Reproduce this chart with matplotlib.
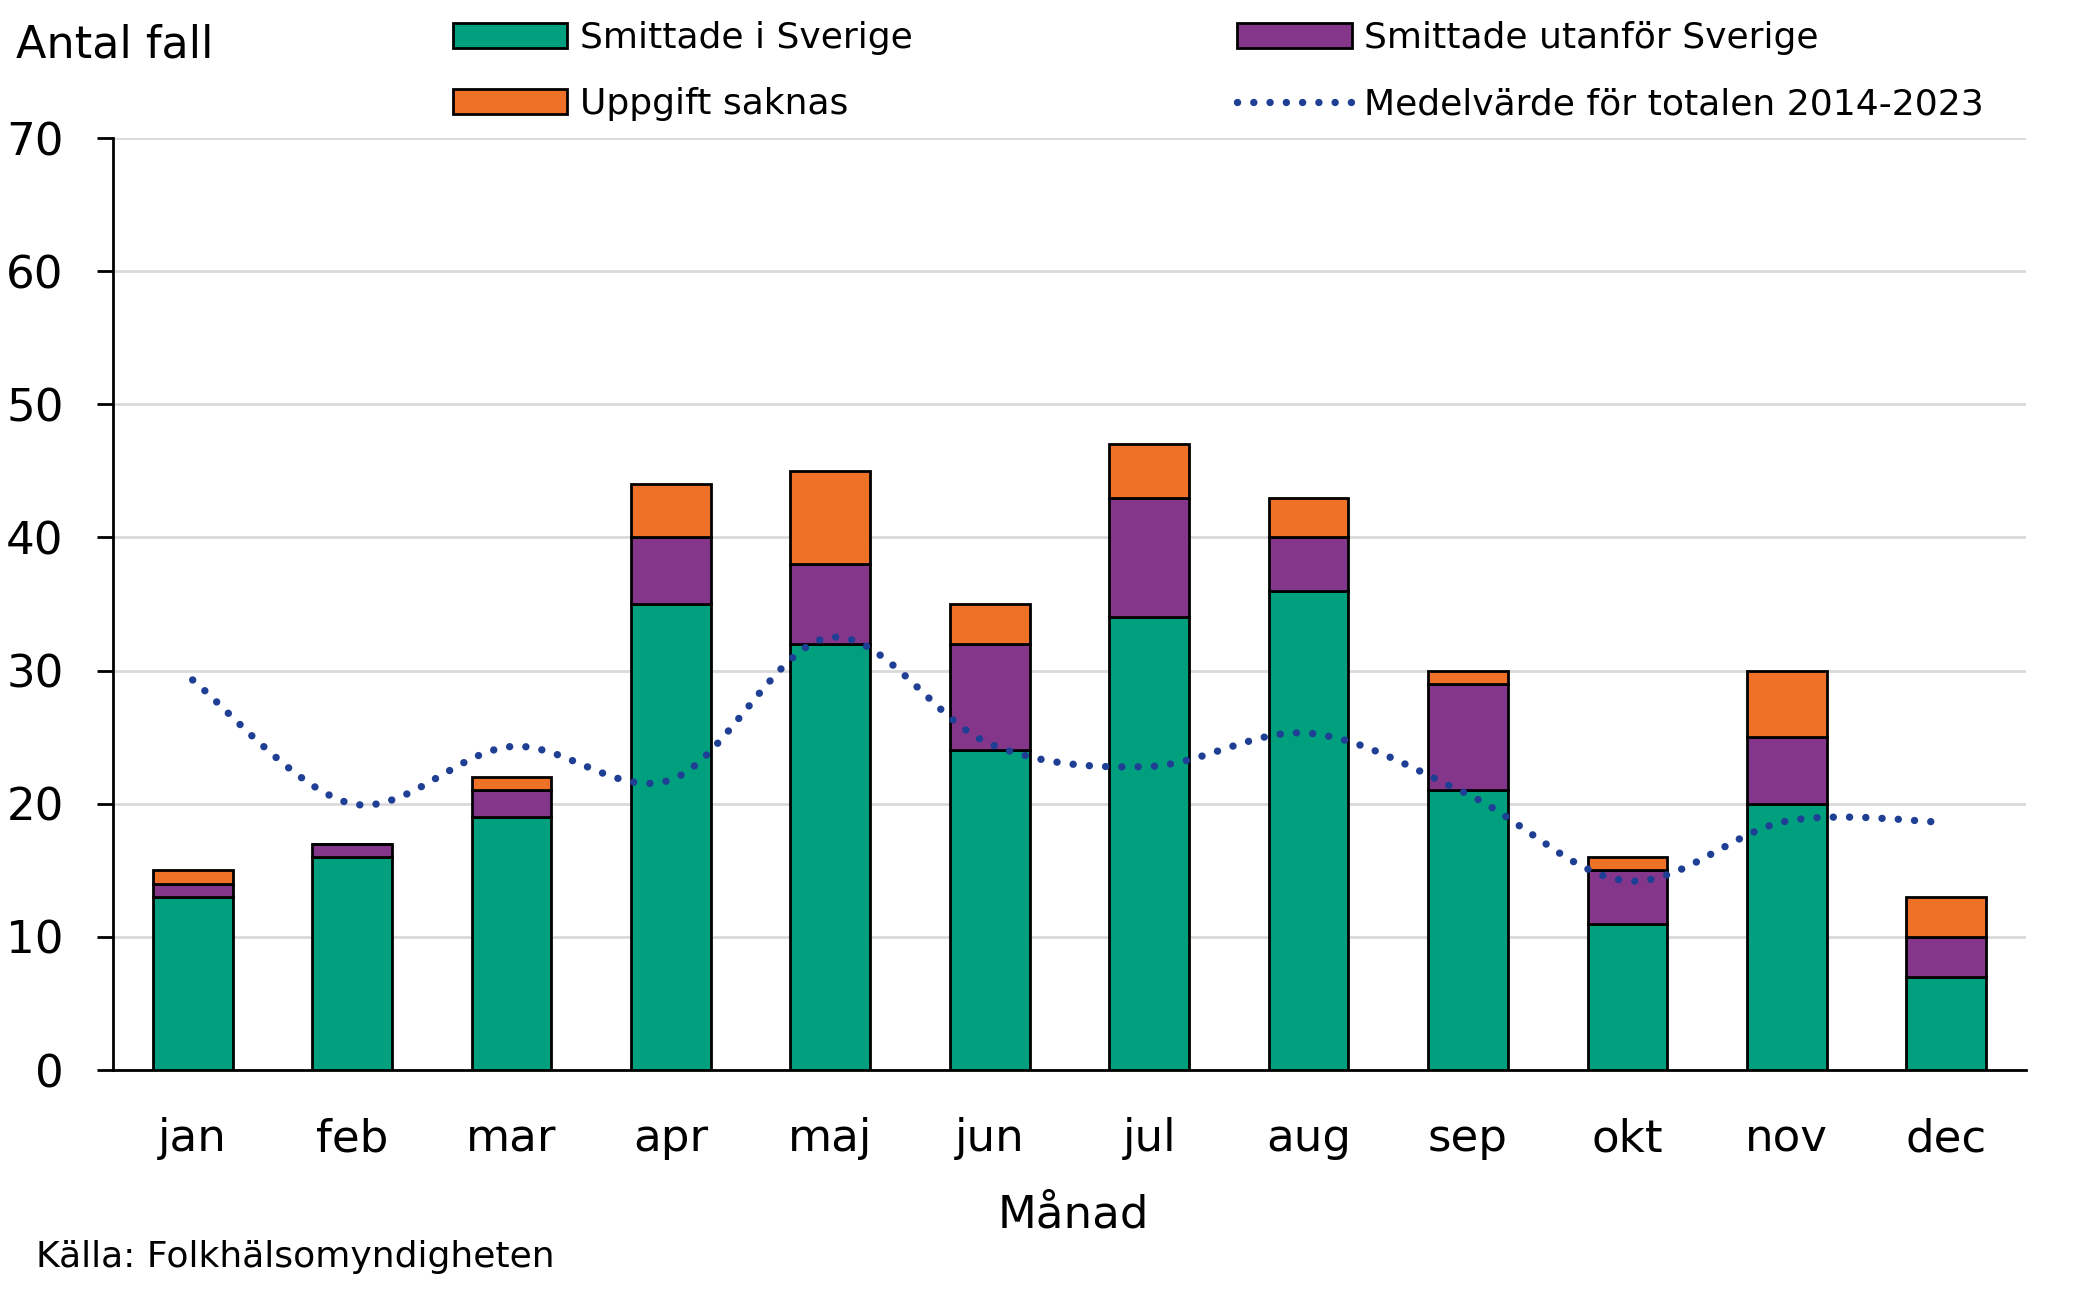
import matplotlib
matplotlib.use("Agg")
import matplotlib.pyplot as plt
from matplotlib.path import Path
from matplotlib.patches import PathPatch, Patch
from matplotlib.lines import Line2D
import numpy as np

plt.rcParams['font.family'] = ['DejaVu Sans']

months = ["jan", "feb", "mar", "apr", "maj", "jun", "jul", "aug", "sep", "okt", "nov", "dec"]
smittade_sverige = [13, 16, 19, 35, 32, 24, 34, 36, 21, 11, 20, 7]
smittade_utanfor = [1, 1, 2, 5, 6, 8, 9, 4, 8, 4, 5, 3]
uppgift_saknas = [1, 0, 1, 4, 7, 3, 4, 3, 1, 1, 5, 3]
medelvarde = [29.3, 20.0, 24.3, 21.8, 32.5, 24.5, 22.8, 25.3, 20.7, 14.2, 18.7, 18.6]

labels = ["Smittade i Sverige", "Smittade utanför Sverige", "Uppgift saknas",
          "Medelvärde för totalen 2014-2023"]
yticks = [0, 10, 20, 30, 40, 50, 60, 70]

C_GREEN = "#00A07F"
C_PURPLE = "#84368B"
C_ORANGE = "#EE7127"
C_NAVY = "#1F3F95"

fig = plt.figure(figsize=(20.8, 13), dpi=100)
ax = fig.add_axes([0.0543, 0.1769, 0.974 - 0.0543, 0.8938 - 0.1769])

x = np.arange(len(months))
a = np.array(smittade_sverige)
b = np.array(smittade_utanfor)
c = np.array(uppgift_saknas)
bar_kw = dict(width=0.5, edgecolor="black", linewidth=2, zorder=3)
ax.bar(x, a, color=C_GREEN, **bar_kw)
ax.bar(x, b, bottom=a, color=C_PURPLE, **bar_kw)
ax.bar(x, c, bottom=a + b, color=C_ORANGE, **bar_kw)

# smoothed mean line (Excel-style smoothing rendered as Bezier path)
pts = np.column_stack([x, medelvarde]).astype(float)
n = len(pts)
verts = [pts[0]]
codes = [Path.MOVETO]
for i in range(n - 1):
    p0 = pts[i - 1] if i > 0 else pts[i]
    p1 = pts[i]
    p2 = pts[i + 1]
    p3 = pts[i + 2] if i + 2 < n else pts[i + 1]
    c1 = p1 + (p2 - p0) / 6.0
    c2 = p2 - (p3 - p1) / 6.0
    verts += [c1, c2, p2]
    codes += [Path.CURVE4] * 3
dot_style = (0, (0.01, 2.2))
patch = PathPatch(Path(verts, codes), fill=False, edgecolor=C_NAVY, linewidth=5.3,
                  linestyle=dot_style, capstyle="round", zorder=4)
ax.add_patch(patch)

ax.set_xlim(-0.5, len(months) - 0.5)
ax.set_ylim(0, 70)
ax.set_yticks(yticks)
ax.set_xticks(x)
ax.set_xticklabels(months)
ax.yaxis.grid(True, color="#D9D9D9", linewidth=2)
ax.set_axisbelow(True)
for s in ["top", "right"]:
    ax.spines[s].set_visible(False)
ax.spines["left"].set_linewidth(2)
ax.spines["bottom"].set_linewidth(2)
ax.tick_params(axis="y", length=11.5, width=2, pad=24, labelsize=32.5)
ax.tick_params(axis="x", length=0, pad=34, labelsize=32.5)

fig.text(16 / 2080, 1 - 58 / 1300, "Antal fall", fontsize=32, va="baseline", ha="left")
fig.text(0.516, 1 - 1228 / 1300, "Månad", fontsize=32.5, va="baseline", ha="center")
fig.text(36 / 2080, 1 - 1267 / 1300, "Källa: Folkhälsomyndigheten", fontsize=26,
         va="baseline", ha="left")

h_green = Patch(facecolor=C_GREEN, edgecolor="black", linewidth=2)
h_purple = Patch(facecolor=C_PURPLE, edgecolor="black", linewidth=2)
h_orange = Patch(facecolor=C_ORANGE, edgecolor="black", linewidth=2)
h_mean = Line2D([], [], color=C_NAVY, linewidth=5.3, linestyle=dot_style,
                dash_capstyle="round")
leg = fig.legend([h_green, h_orange, h_purple, h_mean],
                 [labels[0], labels[2], labels[1], labels[3]],
                 ncol=2, loc="upper left", bbox_to_anchor=(0.2178, 0.9836),
                 frameon=False, fontsize=26, borderpad=0, borderaxespad=0,
                 handlelength=3.17, handleheight=0.68, handletextpad=0.35,
                 labelspacing=0.89, columnspacing=8.98)

fig.savefig("out.png", dpi=100)
